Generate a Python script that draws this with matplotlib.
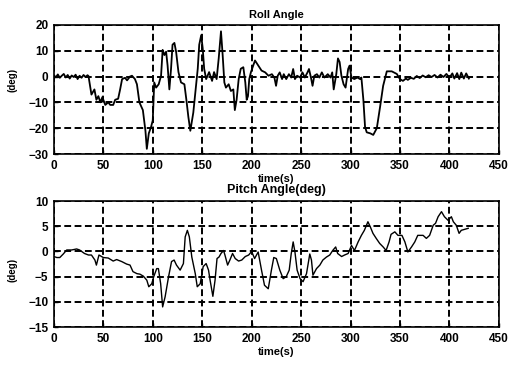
import numpy as np
import matplotlib.pyplot as plt

plt.rcParams['font.family'] = ['Liberation Sans', 'DejaVu Sans']
plt.rcParams['font.weight'] = 'bold'

# Roll angle (deg) vs time (s)
roll_t = [0, 2, 4, 6, 8, 10, 12, 14, 16, 18,
          20, 22, 24, 26, 28, 30, 32, 34, 35, 38,
          41, 43, 45, 47, 49, 52, 55, 57, 60, 62,
          65, 67, 69, 72, 74, 77, 79, 82, 84, 86.5,
          90, 92.6, 94, 96, 98.3, 100, 101.5, 103.4, 106, 108.4,
          110, 111.8, 113.5, 115, 116.8, 118.5, 120, 121.9, 123.6, 126,
          128.6, 132, 134, 136, 138, 139.7, 141, 143.8, 145.5, 147,
          149, 150.5, 152, 154, 157, 160, 162, 164.6, 166.7, 169,
          170.7, 172.4, 174, 176.8, 179, 181.5, 183, 184.8, 186.9, 189,
          191.6, 193.6, 195, 196.3, 197.6, 199.3, 203.4, 206.8, 210, 213.7,
          217, 220.5, 223, 224.7, 226.4, 228.4, 230.8, 232.5, 235, 237.7,
          240, 242, 243.8, 246, 249, 251.4, 253.8, 256.5, 258, 260,
          261.6, 263.4, 266, 268.5, 271, 273.6, 277, 279.8, 281.5, 283,
          285.6, 287.3, 289, 290.8, 293, 295, 297.6, 299, 301, 303.8,
          307, 309.6, 311, 313, 314.7, 316.4, 320, 323, 326.6, 330,
          333, 336.7, 341.7, 346.8, 350, 353, 356, 358, 361, 364,
          367, 370, 373, 376, 379, 382, 385, 388, 391, 394,
          397, 400, 403, 405, 407.8, 410, 412, 414.6, 417, 419.7]
roll_v = [0.5, -0.3, 0.8, -0.5, 0.3, 1.0, -0.4, 0.6, -0.8, 0.4,
          -0.2, 0.7, -1.0, 0.3, -0.5, 0.6, -0.2, 0.5, 0.2, -7,
          -5, -9, -7.6, -10, -8, -11, -10, -11, -11, -9,
          -8.6, -5, -1, -0.5, -1.5, 0, 0.3, -1, -3, -10,
          -13, -21, -28, -22, -19.5, -17, -2.3, -4.3, -3, 0.3,
          10.3, 8.3, 9.6, 4.3, -5, 3, 12.3, 13, 9.6, 1.7,
          -2.3, -3, -9, -15.6, -21, -17, -14, -3.6, 3, 12.3,
          16, 11, 3, -1, 1.7, -1.7, 1.7, -1, 7, 17.5,
          8.3, -2.3, -4.3, -3, -5.6, -5, -13, -9, -1, 3,
          3.6, -2.3, -9, -7.6, -1, 1.7, 6.2, 4.2, 2.3, 1.6,
          0.3, 0.9, -0.4, -3.6, 0.3, 1.6, -1, 0.9, -1, 0.9,
          -0.4, 2.9, -1, 0.3, -0.4, 1.6, -0.4, 1.6, 2.9, -0.4,
          -3.6, 0.3, 0.9, -0.4, 1.6, -0.4, 0.9, -0.4, 1.6, -5,
          0.9, 7, 5.6, 0.3, -3, -4.3, 2.9, 4.2, -0.4, -1,
          -0.4, -1, -0.4, -9, -19.5, -21.6, -22, -22.6, -20, -11.5,
          -3.6, 2, 2, 1, -1, -1.7, -0.8, -1.3, -0.5, -0.9,
          0.2, -0.6, 0.4, -0.3, 0.5, -0.2, 0.6, -0.4, 0.7, -0.2,
          1, -0.5, 1.2, -0.8, 1.3, -1, 1.5, -0.8, 1.2, -0.8]

# Pitch angle (deg) vs time (s)
pitch_t = [0, 3, 6, 9.5, 13, 18, 23, 26, 31, 35, 38, 41.5, 43, 45.6, 50, 55, 60, 63.5,
           68.6, 73.6, 77, 80, 84, 87, 90.5, 94, 96, 99, 101, 104, 105.7, 108, 110,
           112.5, 116, 119, 121.6, 124, 127.7, 131, 132.8, 135, 137, 139.5, 143, 145,
           148, 151, 154, 156.4, 158, 160.8, 163, 165, 167, 169, 171.6, 173, 175.7,
           178, 180.7, 183.4, 186.8, 190, 193.6, 197, 200, 203, 206.6, 210, 213,
           216.8, 220, 222.4, 225, 228.5, 231.9, 235, 238, 240, 242, 243.8, 246, 249,
           252, 255.5, 258.8, 260.5, 262, 265.6, 269, 272, 275.7, 279, 282, 285, 287,
           291, 294, 297.6, 301, 304, 307.7, 311, 314, 317.6, 320, 322.7, 326, 329.5,
           333, 336, 339, 341, 344.8, 348, 352, 355, 358, 361.7, 365, 368, 373.4,
           376.7, 380, 383.6, 386, 388.6, 392, 395, 398.6, 402, 404, 407, 409.8, 412,
           415.6, 419]
pitch_v = [-1, -1.2, -1.2, -0.5, 0.3, 0.3, 0.5, 0.3, -0.4, -0.7, -0.7, -1.7, -2.7,
           -0.7, -1.2, -1.3, -1.9, -1.6, -2, -2.5, -2.7, -4, -4.4, -4.5, -4.9, -5.7,
           -7, -6.4, -5, -3.4, -3.4, -6.4, -11, -9, -5, -2, -1.7, -2.7, -3.7, -2.4,
           2.9, 4.2, 2.9, -1.1, -4.4, -7, -6.4, -3, -2.4, -3.7, -5.7, -8.9, -5.7,
           -1.4, -1.1, -0.4, 0.2, -0.7, -2.7, -1.7, -0.4, -1.4, -1.9, -1.7, -1, -0.7,
           0, -1.4, -0.1, -3.7, -6.7, -7.4, -3.7, -1.2, -1.4, -3.7, -5.4, -5, -3.7,
           -0.5, 1.9, -0.1, -3.7, -5.4, -6, -4.4, -0.5, -1.7, -4.7, -3.4, -2.7, -1.7,
           -1.1, -0.7, 0.2, 0.9, -0.4, -1, -0.7, -0.4, 1.2, 0.2, 1.9, 3.2, 4.2, 5.9,
           4.9, 3.6, 2.6, 1.6, 0.9, 0.2, 1.9, 3.4, 3.9, 3.2, 3.2, 1.9, -0.1, 0.9, 1.9,
           3.2, 3.2, 2.6, 3.2, 5.2, 5.6, 6.9, 7.9, 6.9, 6.2, 6.9, 5.9, 5.2, 3.6, 4.2,
           4.4, 4.6]

x_ticks = np.arange(0, 451, 50)

fig = plt.figure(figsize=(5.18, 3.65), dpi=100)

def style(ax, ylim, yticks, ylab_y):
    ax.set_xlim(0, 450)
    ax.set_ylim(*ylim)
    ax.set_xticks(x_ticks)
    ax.set_yticks(yticks)
    ax.grid(True, color='black', linestyle=(0, (3.5, 1.8)), linewidth=1.4)
    ax.tick_params(labelsize=8.5, direction='in', length=3, width=1, pad=4)
    for s in ax.spines.values():
        s.set_linewidth(1.2)
    ax.set_xlabel('time(s)', fontsize=8, fontweight='bold', labelpad=2)
    ax.set_ylabel('(deg)', fontsize=7, fontweight='bold')
    ax.yaxis.set_label_coords(-0.082, ylab_y)

ax1 = fig.add_axes([0.104, 0.578, 0.859, 0.354])
ax1.plot(roll_t, roll_v, color='black', linewidth=1.3)
style(ax1, (-30, 20), np.arange(-30, 21, 10), 0.57)
ax1.set_title('Roll Angle', fontsize=8, fontweight='bold', pad=5)

ax2 = fig.add_axes([0.104, 0.104, 0.859, 0.345])
ax2.plot(pitch_t, pitch_v, color='black', linewidth=1.0)
style(ax2, (-15, 10), np.arange(-15, 11, 5), 0.45)
ax2.set_title('Pitch Angle(deg)', fontsize=9, fontweight='bold', pad=6)

fig.savefig('out.png', dpi=100)
